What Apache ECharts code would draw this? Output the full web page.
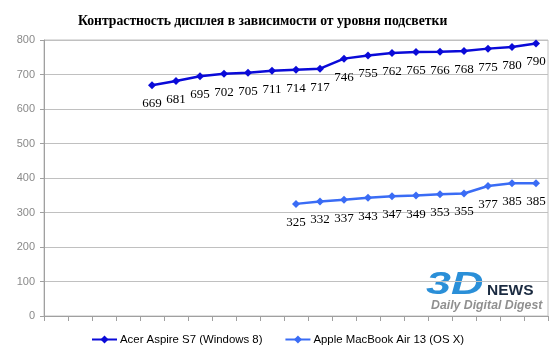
<!DOCTYPE html>
<html><head><meta charset="utf-8">
<script src="https://cdn.jsdelivr.net/npm/echarts@6/dist/echarts.min.js"></script>
<style>html,body{margin:0;padding:0;background:#fff}#c{width:550px;height:356px}</style>
</head><body><div id="c"></div>
<script>
const title = 'Контрастность дисплея в зависимости от уровня подсветки';
const categories = ['1','2','3','4','5','6','7','8','9','10','11','12','13','14','15','16','17','18','19','20','21'];
const acerName = 'Acer Aspire S7 (Windows 8)';
const acerValues = [null,null,null,null,669,681,695,702,705,711,714,717,746,755,762,765,766,768,775,780,790];
const appleName = 'Apple MacBook Air 13 (OS X)';
const appleValues = [null,null,null,null,null,null,null,null,null,null,325,332,337,343,347,349,353,355,377,385,385];
const yTicks = [0,100,200,300,400,500,600,700,800];

const chart = echarts.init(document.getElementById('c'));
const lbl = {show:true, position:'bottom', distance:8, fontFamily:'Liberation Serif', fontSize:13, color:'#000'};
chart.setOption({
  animation:false,
  title:{text:title, left:73, top:9, textStyle:{fontFamily:'Liberation Serif', fontWeight:'bold', fontSize:13.7, color:'#000'}},
  grid:{left:44, right:2, top:40, bottom:40, show:true, borderColor:'#c0c0c0', borderWidth:1},
  legend:{bottom:6, left:86, itemGap:22, itemWidth:25, itemHeight:10, textStyle:{fontFamily:'Liberation Sans', fontSize:11.4, color:'#000', padding:[0,0,0,-2]},
    data:[acerName, appleName]},
  xAxis:{type:'category', data:categories, boundaryGap:true,
    axisLine:{lineStyle:{color:'#a0a0a0'}}, axisTick:{show:true, length:5, interval:0, lineStyle:{color:'#a0a0a0'}},
    axisLabel:{show:false}, splitLine:{show:false}},
  yAxis:{type:'value', min:yTicks[0], max:yTicks[yTicks.length-1], interval:100,
    axisLine:{show:true, lineStyle:{color:'#a0a0a0'}}, axisTick:{show:true, length:4, lineStyle:{color:'#a0a0a0'}},
    axisLabel:{fontFamily:'Liberation Sans', fontSize:11, color:'#8a8a8a', margin:9},
    splitLine:{lineStyle:{color:'#c0c0c0'}}},
  series:[
    {name:acerName, type:'line', data:acerValues, symbol:'diamond', symbolSize:8, connectNulls:false,
     lineStyle:{width:2.5, color:'#0a0ad8'}, itemStyle:{color:'#0a0ad8'}, label:lbl},
    {name:appleName, type:'line', data:appleValues, symbol:'diamond', symbolSize:8,
     lineStyle:{width:2.5, color:'#3a6cf5'}, itemStyle:{color:'#3a6cf5'}, label:lbl}
  ],
  graphic:[
    {type:'text', x:426, y:270, scaleX:1.45, style:{text:'3D', font:'italic bold 31px "Liberation Sans"', fill:'#2a8fd8'}},
    {type:'text', x:487, y:283, style:{text:'NEWS', font:'bold 15.5px "Liberation Sans"', fill:'#1a2a40'}},
    {type:'text', x:431, y:300, style:{text:'Daily Digital Digest', font:'italic bold 12.3px "Liberation Sans"', fill:'#909090'}}
  ]
});
</script></body></html>
